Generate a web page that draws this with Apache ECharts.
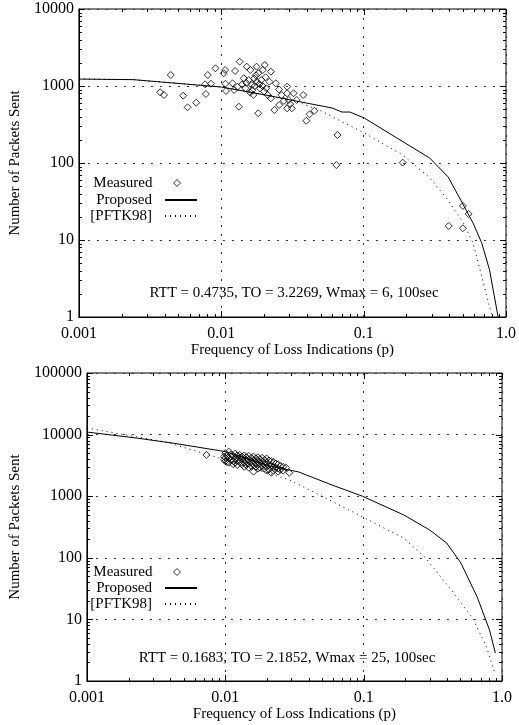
<!DOCTYPE html>
<html>
<head>
<meta charset="utf-8">
<script src="https://cdn.jsdelivr.net/npm/echarts@6/dist/echarts.min.js"></script>
<style>
html, body { margin: 0; padding: 0; background: #fff; }
#main { width: 519px; height: 725px; }
</style>
</head>
<body>
<div id="main"></div>
<script>
// upper plot (RTT = 0.4735)
var topMeasuredP = [0.00372, 0.00396, 0.00442, 0.0054, 0.0058, 0.00667, 0.0077, 0.0078, 0.00804, 0.00847,
    0.0091, 0.0104, 0.01064, 0.0107, 0.0108, 0.0120, 0.0123, 0.0125, 0.0130, 0.0133,
    0.01346, 0.0140, 0.0144, 0.0148, 0.0150, 0.0151, 0.0156, 0.0160, 0.0160, 0.0164,
    0.0165, 0.0168, 0.0170, 0.0172, 0.0175, 0.0177, 0.0177, 0.0182, 0.0182, 0.0185,
    0.0187, 0.0191, 0.0195, 0.0196, 0.0200, 0.0202, 0.0205, 0.0207, 0.0212, 0.0218,
    0.0223, 0.0223, 0.0236, 0.0242, 0.0255, 0.0255, 0.0265, 0.0275, 0.0290, 0.0290,
    0.0290, 0.0298, 0.0305, 0.0313, 0.0322, 0.0339, 0.0376, 0.0396, 0.0417, 0.0451,
    0.0643, 0.0656, 0.188, 0.396, 0.498, 0.498, 0.546];
var topMeasuredN = [828, 764, 1390, 749, 529, 607, 1052, 787, 1390, 1071,
    1698, 1462, 1614, 1071, 861, 1084, 887, 1567, 980, 538,
    2070, 1050, 1259, 933, 1100, 1783, 1197, 1614, 820, 1030,
    880, 764, 1250, 1000, 1380, 1783, 1138, 1462, 442, 1060,
    933, 1197, 1000, 1614, 850, 1875, 1300, 933, 764, 1138,
    1535, 692, 488, 1084, 566, 900, 760, 640, 979, 804,
    513, 658, 580, 513, 804, 658, 764, 354, 429, 477,
    94, 231, 101, 15.2, 27.7, 14.2, 21.8];
var topProposedP = [0.001, 0.0024, 0.01, 0.02, 0.0396, 0.06, 0.0705, 0.08, 0.101, 0.291, 0.392, 0.502, 0.587, 0.676, 0.766, 0.88];
var topProposedN = [1230, 1210, 970, 770, 601, 518, 459, 459, 384, 116, 66, 28.5, 16.6, 9.1, 4.1, 1];
var topPftkP = [0.001, 0.0024, 0.01, 0.02, 0.032, 0.0485, 0.101, 0.188, 0.287, 0.392, 0.502, 0.587, 0.80];
var topPftkN = [1230, 1210, 970, 770, 650, 490, 245, 127, 66, 33, 16.6, 9.1, 1];

// lower plot (RTT = 0.1683)
var botMeasuredP = [0.0073,
    0.0098, 0.0098, 0.0100, 0.0100, 0.0100, 0.0103, 0.0103, 0.0106, 0.0106, 0.0106,
    0.0110, 0.0110, 0.0110, 0.0114, 0.0114, 0.0114, 0.0118, 0.0118, 0.0118,
    0.0122, 0.0122, 0.0122, 0.0127, 0.0127, 0.0127, 0.0132, 0.0132, 0.0132,
    0.0137, 0.0137, 0.0137, 0.0137, 0.0142, 0.0142, 0.0142, 0.0148, 0.0148, 0.0148, 0.0148,
    0.0154, 0.0154, 0.0154, 0.0160, 0.0160, 0.0160, 0.0160, 0.0166, 0.0166, 0.0166,
    0.0172, 0.0172, 0.0172, 0.0172, 0.0178, 0.0178, 0.0178, 0.0185, 0.0185, 0.0185,
    0.0192, 0.0192, 0.0192, 0.0199, 0.0199, 0.0199, 0.0199, 0.0207, 0.0207, 0.0207,
    0.0215, 0.0215, 0.0215, 0.0223, 0.0223, 0.0223, 0.0232, 0.0232,
    0.0241, 0.0241, 0.0241, 0.0250, 0.0250, 0.0262, 0.0262, 0.0275, 0.0290];
var botMeasuredN = [4670,
    4400, 3900, 5000, 4200, 3700, 4600, 3600, 5300, 4100, 3500,
    4800, 4400, 3900, 4500, 3700, 3300, 4900, 4100, 3500,
    4600, 3800, 3200, 4700, 4200, 3600, 4400, 3900, 3300,
    4600, 4000, 3500, 3000, 4300, 3700, 3200, 4500, 3900, 3400, 2900,
    4200, 3600, 3100, 4400, 3800, 3300, 2500, 4100, 3500, 3000,
    4300, 3700, 3200, 2800, 4000, 3400, 2900, 4200, 3600, 3100,
    3900, 3300, 2800, 4100, 3500, 3000, 2600, 3800, 3200, 2700,
    3700, 3100, 2400, 3600, 3000, 2600, 3400, 2900,
    3300, 2800, 2500, 3100, 2700, 3000, 2600, 2900, 2400];
var botProposedP = [0.001, 0.00228, 0.0043, 0.01, 0.0211, 0.034, 0.059, 0.098, 0.195, 0.30, 0.398, 0.505, 0.662, 0.813, 0.895];
var botProposedN = [11000, 8800, 7200, 5300, 3090, 2470, 1520, 1000, 496, 283, 174, 82, 23, 6.7, 2.85];
var botPftkP = [0.001, 0.0037, 0.01, 0.029, 0.098, 0.149, 0.195, 0.28, 0.43, 0.62, 0.776, 0.88];
var botPftkN = [12800, 7600, 3900, 1850, 464, 283, 209, 100, 30, 10, 3.5, 1.4];

var topNote = 'RTT = 0.4735, TO = 3.2269, Wmax = 6, 100sec';
var botNote = 'RTT = 0.1683, TO = 2.1852, Wmax = 25, 100sec';

var FONT = 'Liberation Serif';

function zip(a, b) {
    return a.map(function (v, i) { return [v, b[i]]; });
}

// one entry per tick: decades get a long tick, 2..9 a short one
function tickItems(min, max, fixed, isX) {
    var out = [];
    for (var d = min; d <= max * 1.001; d *= 10) {
        var dd = +d.toPrecision(3);
        out.push(isX ? [dd, fixed, 1] : [fixed, dd, 1]);
        if (d < max * 0.999) {
            for (var k = 2; k <= 9; k++) {
                var v = +(d * k).toPrecision(3);
                out.push(isX ? [v, fixed, 0] : [fixed, v, 0]);
            }
        }
    }
    return out;
}

function crisp(v) {
    return Math.round(v) + 0.5;
}

// ticks on both opposite sides of the frame, pointing inwards
function renderXTicks(params, api) {
    var rect = params.coordSys;
    var p = api.coord([api.value(0), api.value(1)]);
    var len = api.value(2) ? 6 : 3;
    var x = crisp(p[0]);
    var top = rect.y, bottom = rect.y + rect.height;
    var st = { stroke: '#000', lineWidth: 1 };
    return {
        type: 'group',
        children: [
            { type: 'line', shape: { x1: x, y1: bottom, x2: x, y2: bottom - len }, style: st },
            { type: 'line', shape: { x1: x, y1: top, x2: x, y2: top + len }, style: st }
        ]
    };
}

function renderYTicks(params, api) {
    var rect = params.coordSys;
    var p = api.coord([api.value(0), api.value(1)]);
    var len = api.value(2) ? 6 : 3;
    var y = crisp(p[1]);
    var left = rect.x, right = rect.x + rect.width;
    var st = { stroke: '#000', lineWidth: 1 };
    return {
        type: 'group',
        children: [
            { type: 'line', shape: { x1: left, y1: y, x2: left + len, y2: y }, style: st },
            { type: 'line', shape: { x1: right, y1: y, x2: right - len, y2: y }, style: st }
        ]
    };
}

function xLabel(v) {
    if (v >= 0.999) return '1.0';
    return String(+v.toPrecision(1));
}

function yLabel(v) {
    return String(Math.round(v));
}

function logAxis(isX, gridIndex, min, max, name, nameGap, formatter) {
    return {
        type: 'log',
        logBase: 10,
        gridIndex: gridIndex,
        min: min,
        max: max,
        position: isX ? 'bottom' : 'left',
        name: name,
        nameLocation: 'middle',
        nameGap: nameGap,
        nameTextStyle: { fontFamily: FONT, fontSize: 15, color: '#000' },
        axisLine: { show: true, lineStyle: { color: '#000', width: 1 } },
        axisTick: { show: false },
        axisLabel: { fontFamily: FONT, fontSize: 16, color: '#000', margin: isX ? 9 : 5, formatter: formatter },
        splitLine: { show: true, lineStyle: { color: '#333', width: 1, type: [2, 7] } }
    };
}

function plotSeries(axisIndex, measured, proposed, pftk, xTicks, yTicks) {
    return [
        {
            name: 'Measured',
            type: 'scatter',
            xAxisIndex: axisIndex,
            yAxisIndex: axisIndex,
            data: measured,
            symbol: 'diamond',
            symbolSize: 7,
            itemStyle: { color: 'rgba(255,255,255,0)', borderColor: '#000', borderWidth: 1 }
        },
        {
            name: 'Proposed',
            type: 'line',
            xAxisIndex: axisIndex,
            yAxisIndex: axisIndex,
            data: proposed,
            symbol: 'none',
            itemStyle: { color: '#000' },
            lineStyle: { color: '#000', width: 1 }
        },
        {
            name: '[PFTK98]',
            type: 'line',
            xAxisIndex: axisIndex,
            yAxisIndex: axisIndex,
            data: pftk,
            symbol: 'none',
            itemStyle: { color: '#000' },
            lineStyle: { color: '#000', width: 1, type: [1, 4] }
        },
        {
            name: 'xticks' + axisIndex,
            type: 'custom',
            xAxisIndex: axisIndex,
            yAxisIndex: axisIndex,
            data: xTicks,
            encode: { x: 0, y: 1 },
            renderItem: renderXTicks,
            silent: true,
            z: 5
        },
        {
            name: 'yticks' + axisIndex,
            type: 'custom',
            xAxisIndex: axisIndex,
            yAxisIndex: axisIndex,
            data: yTicks,
            encode: { x: 0, y: 1 },
            renderItem: renderYTicks,
            silent: true,
            z: 5
        }
    ];
}

// the diamond gets its own small legend so it is not stretched; padding keeps the texts right-aligned
var hideDot = { color: 'rgba(0,0,0,0)', borderColor: 'rgba(0,0,0,0)', borderWidth: 0 };
var hollowDiamond = { color: 'rgba(255,255,255,0)', borderColor: '#000', borderWidth: 1 };

function legendMeasured(top) {
    return {
        orient: 'vertical', align: 'right', right: 338, top: top, padding: 0,
        itemWidth: 7, itemHeight: 7, selectedMode: false,
        textStyle: { fontFamily: FONT, fontSize: 15, color: '#000', lineHeight: 16, padding: [0, 16, 0, 0] },
        data: [{ name: 'Measured', icon: 'diamond', itemStyle: hollowDiamond }]
    };
}

function legendLines(top) {
    return {
        orient: 'vertical', align: 'right', right: 321, top: top, padding: 0, itemGap: 0,
        itemWidth: 32, itemHeight: 7, selectedMode: false,
        textStyle: { fontFamily: FONT, fontSize: 15, color: '#000', lineHeight: 16, padding: [0, 8, 0, 0] },
        data: [{ name: 'Proposed', itemStyle: hideDot }, { name: '[PFTK98]', itemStyle: hideDot }]
    };
}

var xTitle = 'Frequency of Loss Indications (p)';
var yTitle = 'Number of Packets Sent';

var dom = document.getElementById('main');
var myChart = echarts.init(dom, null, { renderer: 'canvas' });

var option = {
    animation: false,
    backgroundColor: '#fff',
    grid: [
        { left: 64, top: 9, right: 12, height: 308, show: true, borderColor: '#000', borderWidth: 1, backgroundColor: 'rgba(0,0,0,0)' },
        { left: 68, top: 373, right: 17, height: 308, show: true, borderColor: '#000', borderWidth: 1, backgroundColor: 'rgba(0,0,0,0)' }
    ],
    xAxis: [
        logAxis(true, 0, 0.001, 1, xTitle, 25, xLabel),
        logAxis(true, 1, 0.001, 1, xTitle, 23, xLabel)
    ],
    yAxis: [
        logAxis(false, 0, 1, 10000, yTitle, 40, yLabel),
        logAxis(false, 1, 1, 100000, yTitle, 44, yLabel)
    ],
    legend: [legendMeasured(175), legendLines(192), legendMeasured(564), legendLines(580)],
    graphic: [
        {
            type: 'text', x: 294, y: 293, silent: true,
            style: { text: topNote, fontFamily: FONT, fontSize: 15, fill: '#000', align: 'center', verticalAlign: 'middle' }
        },
        {
            type: 'text', x: 287, y: 658, silent: true,
            style: { text: botNote, fontFamily: FONT, fontSize: 15, fill: '#000', align: 'center', verticalAlign: 'middle' }
        }
    ],
    series: plotSeries(0, zip(topMeasuredP, topMeasuredN), zip(topProposedP, topProposedN), zip(topPftkP, topPftkN),
            tickItems(0.001, 1, 1, true), tickItems(1, 10000, 0.001, false))
        .concat(plotSeries(1, zip(botMeasuredP, botMeasuredN), zip(botProposedP, botProposedN), zip(botPftkP, botPftkN),
            tickItems(0.001, 1, 1, true), tickItems(1, 100000, 0.001, false)))
};

if (option && typeof option === 'object') {
    myChart.setOption(option);
}

window.addEventListener('resize', myChart.resize);
</script>
</body>
</html>
